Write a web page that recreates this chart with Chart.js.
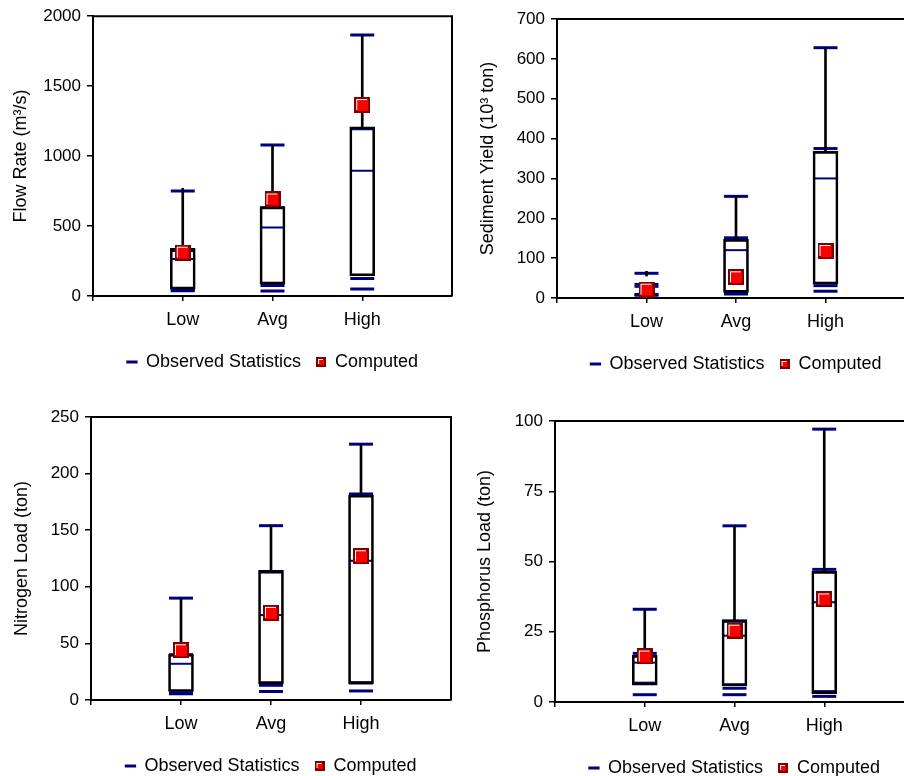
<!DOCTYPE html>
<html>
<head>
<meta charset="utf-8">
<script src="https://cdn.jsdelivr.net/npm/chart.js@4.4.1/dist/chart.umd.min.js"></script>
<style>
  html, body { margin: 0; padding: 0; background: #fff; overflow: hidden; width: 904px; height: 776px; }
  canvas { position: absolute; }
</style>
</head>
<body>
<canvas id="flow"></canvas>
<canvas id="sediment"></canvas>
<canvas id="nitrogen"></canvas>
<canvas id="phosphorus"></canvas>
<script>
const categories = ["Low", "Avg", "High"];

// flow rate (m3/s)
const flowMax = [750, 1080, 1865];
const flowP75 = [325, 630, 1195];
const flowMedian = [265, 490, 895];
const flowP25 = [45, 75, 125];
const flowMin = [38, 35, 50];
const flowBoxTop = [340, 640, 1210];
const flowBoxBottom = [50, 85, 145];
const flowWhiskerTop = [770, 1075, 1865];
const flowComputed = [310, 690, 1365];

// sediment yield (10^3 ton)
const sedMax = [62, 255, 628];
const sedP75 = [34, 151, 375];
const sedMedian = [28, 120, 300];
const sedP25 = [9, 13, 31];
const sedMin = [7, 10, 17];
const sedBoxTop = [null, 147, 368];
const sedBoxBottom = [null, 14, 35];
const sedWhiskerBottom = [55, 147, 368];
const sedWhiskerTop = [67, 255, 628];
const sedComputed = [21, 52, 118];

// nitrogen load (ton)
const nitMax = [90, 154, 226];
const nitP75 = [40, 113, 182];
const nitMedian = [32, 75, 123];
const nitP25 = [6.5, 13, 15];
const nitMin = [5.5, 7.5, 8];
const nitBoxTop = [40.5, 114.5, 181];
const nitBoxBottom = [7.5, 14.5, 14.5];
const nitComputed = [44, 77, 127];

// phosphorus load (ton)
const phosMax = [33, 62.7, 97.1];
const phosP75 = [17.3, 28.7, 47.2];
const phosMedian = [14, 23.6, 35.5];
const phosP25 = [6.7, 4.9, 3.7];
const phosMin = [2.6, 2.6, 2];
const phosBoxTop = [16.6, 29.3, 46.5];
const phosBoxBottom = [6, 5.8, 3];
const phosComputed = [16.2, 25.4, 36.5];

Chart.defaults.font.family = "'Liberation Sans', Arial, sans-serif";
Chart.defaults.color = "#000";

const NAVY = "#000080";
const DARKRED = "#800000";
const RED = "#ff0000";

// red square with dark border and white highlight
function makeMarker(size) {
  const c = document.createElement("canvas");
  c.width = size;
  c.height = size;
  const g = c.getContext("2d");
  g.fillStyle = DARKRED;
  g.fillRect(0, 0, size, size);
  g.fillStyle = "#fff";
  g.fillRect(2, 2, size - 5, size - 5);
  g.fillStyle = RED;
  g.fillRect(3, 3, size - 5, size - 5);
  return c;
}
const bigMarker = makeMarker(16);
const smallMarker = makeMarker(10);

// top and right lines of the plot frame
const framePlugin = {
  id: "frame",
  afterDraw(chart) {
    const { ctx, chartArea: a } = chart;
    ctx.save();
    ctx.strokeStyle = "#000";
    ctx.lineWidth = 2;
    ctx.beginPath();
    ctx.moveTo(a.left, a.top);
    ctx.lineTo(a.right, a.top);
    ctx.lineTo(a.right, a.bottom);
    ctx.stroke();
    ctx.restore();
  },
};

function pts(arr) {
  return arr.map((v, i) => (v == null ? null : { x: i + 1, y: v })).filter(Boolean);
}
function ranges(lo, hi) {
  return hi
    .map((v, i) => (v == null || lo[i] == null ? null : { x: i + 1, y: [lo[i], v] }))
    .filter(Boolean);
}

function makeChart(id, geo, yTitle, yMax, yStep, s) {
  const canvas = document.getElementById(id);
  canvas.width = geo.plotRight - geo.left + 15;
  canvas.height = geo.plotBottom + 86 - geo.top;
  canvas.style.left = geo.left + "px";
  canvas.style.top = geo.top + "px";

  const observed = [].concat(pts(s.max), pts(s.p75), pts(s.p25), pts(s.min));

  const datasets = [
    {
      type: "scatter",
      label: "Observed Statistics",
      data: observed,
      pointStyle: "line",
      pointRadius: 12,
      pointBorderWidth: 3,
      pointBorderColor: NAVY,
      borderColor: NAVY,
      backgroundColor: NAVY,
      order: 3,
    },
    {
      type: "scatter",
      label: "Computed",
      data: pts(s.computed),
      pointStyle: bigMarker,
      pointRadius: 8,
      borderColor: DARKRED,
      backgroundColor: RED,
      order: 0,
    },
    {
      type: "scatter",
      label: "",
      data: pts(s.median),
      pointStyle: "line",
      pointRadius: 12,
      pointBorderWidth: 2,
      pointBorderColor: NAVY,
      order: 3,
    },
    {
      type: "bar",
      label: "",
      data: ranges(s.boxBottom, s.boxTop),
      barThickness: 25,
      grouped: false,
      backgroundColor: "rgba(0,0,0,0)",
      borderColor: "#000",
      borderWidth: 2,
      borderSkipped: false,
      order: 2,
    },
    {
      type: "bar",
      label: "",
      data: ranges(s.whiskerBottom, s.whiskerTop),
      barThickness: 2,
      grouped: false,
      backgroundColor: "#000",
      borderWidth: 0,
      order: 2,
    },
  ];

  new Chart(canvas, {
    type: "scatter",
    data: { datasets: datasets },
    plugins: [framePlugin],
    options: {
      responsive: false,
      animation: false,
      devicePixelRatio: 1,
      layout: {
        padding: { top: geo.plotTop - geo.top, right: 0, left: 0, bottom: 0 },
      },
      plugins: {
        tooltip: { enabled: false },
        legend: {
          position: "bottom",
          fullSize: false,
          labels: {
            usePointStyle: true,
            boxWidth: 10,
            boxHeight: 8,
            padding: 15,
            font: { size: 18 },
            color: "#000",
            filter: (item) => item.text !== "",
            sort: (a, b) => a.datasetIndex - b.datasetIndex,
            generateLabels: (chart) =>
              Chart.defaults.plugins.legend.labels.generateLabels(chart).map((item) => {
                if (item.text === "Computed") item.pointStyle = smallMarker;
                return item;
              }),
          },
        },
      },
      scales: {
        x: {
          type: "linear",
          min: 0,
          max: 4,
          offset: false,
          afterBuildTicks: (sc) => {
            sc.ticks = [0, 1, 2, 3].map((v) => ({ value: v }));
          },
          afterFit: (sc) => {
            sc.height = 42;
          },
          border: { display: true, color: "#000", width: 2 },
          grid: {
            display: true,
            offset: false,
            drawOnChartArea: false,
            drawTicks: true,
            tickLength: 5,
            color: "#000",
            lineWidth: 1.5,
          },
          ticks: {
            autoSkip: false,
            maxRotation: 0,
            padding: 8,
            font: { size: 18 },
            color: "#000",
            callback: (v) => categories[v - 1] || "",
          },
        },
        y: {
          type: "linear",
          min: 0,
          max: yMax,
          afterFit: (sc) => {
            sc.width = geo.plotLeft - geo.left;
          },
          border: { display: true, color: "#000", width: 2 },
          grid: { display: true, drawOnChartArea: false, drawTicks: true, tickLength: 6, color: "#000", lineWidth: 1.5 },
          ticks: { stepSize: yStep, padding: 6, font: { size: 17 }, color: "#000", callback: (v) => String(v) },
          title: {
            display: true,
            text: yTitle,
            font: { size: 18 },
            color: "#000",
            padding: { top: geo.titlePad, bottom: 0 },
          },
        },
      },
    },
  });
}

makeChart("flow",
  { left: 0, top: 0, plotLeft: 93, plotTop: 15, plotRight: 452, plotBottom: 295, titlePad: 10 },
  "Flow Rate (m³/s)", 2000, 500,
  { max: flowMax, p75: flowP75, median: flowMedian, p25: flowP25, min: flowMin,
    boxTop: flowBoxTop, boxBottom: flowBoxBottom,
    whiskerBottom: flowBoxTop, whiskerTop: flowWhiskerTop, computed: flowComputed });

makeChart("sediment",
  { left: 460, top: 0, plotLeft: 557, plotTop: 19, plotRight: 915, plotBottom: 297, titlePad: 17 },
  "Sediment Yield (10³ ton)", 700, 100,
  { max: sedMax, p75: sedP75, median: sedMedian, p25: sedP25, min: sedMin,
    boxTop: sedBoxTop, boxBottom: sedBoxBottom,
    whiskerBottom: sedWhiskerBottom, whiskerTop: sedWhiskerTop, computed: sedComputed });

makeChart("nitrogen",
  { left: 0, top: 380, plotLeft: 91, plotTop: 417, plotRight: 451, plotBottom: 699, titlePad: 11 },
  "Nitrogen Load (ton)", 250, 50,
  { max: nitMax, p75: nitP75, median: nitMedian, p25: nitP25, min: nitMin,
    boxTop: nitBoxTop, boxBottom: nitBoxBottom,
    whiskerBottom: nitBoxTop, whiskerTop: nitMax, computed: nitComputed });

makeChart("phosphorus",
  { left: 460, top: 380, plotLeft: 555, plotTop: 421, plotRight: 914, plotBottom: 701, titlePad: 14 },
  "Phosphorus Load (ton)", 100, 25,
  { max: phosMax, p75: phosP75, median: phosMedian, p25: phosP25, min: phosMin,
    boxTop: phosBoxTop, boxBottom: phosBoxBottom,
    whiskerBottom: phosBoxTop, whiskerTop: phosMax, computed: phosComputed });
</script>
</body>
</html>
